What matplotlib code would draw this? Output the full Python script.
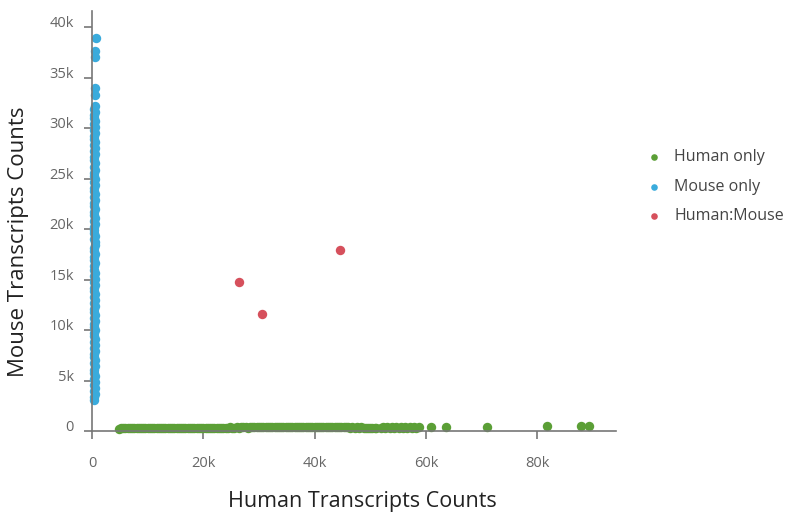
import matplotlib.pyplot as plt
from matplotlib.transforms import ScaledTranslation

plt.rcParams['font.family'] = ['Open Sans', 'DejaVu Sans']

# transcript counts per cell
human_x = [4800, 5200, 5600, 6000, 6400, 6800, 7200, 7600, 8000, 8400, 8800, 9200,
           9600, 10000, 10400, 10800, 11200, 11600, 12000, 12400, 12800, 13200, 13600, 14000,
           14400, 14800, 15200, 15600, 16000, 16400, 16800, 17200, 17600, 18000, 18400, 18800,
           19200, 19600, 20000, 20400, 20800, 21200, 21600, 22000, 22400, 22800, 23200, 23600,
           24000, 24400, 24800, 25200, 25600, 26000, 26400, 26800, 27200, 27600, 28000, 28400,
           28800, 29200, 29600, 30000, 30400, 30800, 31200, 31600, 32000, 32400, 32800, 33200,
           33600, 34000, 34400, 34800, 35200, 35600, 36000, 36400, 36800, 37200, 37600, 38000,
           38400, 38800, 39200, 39600, 40000, 40400, 40800, 41200, 41600, 42000, 42400, 42800,
           43200, 43600, 44000, 44400, 44800, 45200, 45600, 46000, 46400, 46800, 47200, 47600,
           48000, 48400, 48800, 49200, 49600, 50000, 50400, 50800, 51100,
           51900, 52300, 52700, 53100, 53500, 53900, 54300, 54700, 55100,
           55500, 55900, 56300, 56700, 57100, 57500, 57900, 58300, 58700,
           60900, 63600, 71000, 81700, 87800, 89400]
human_y = [240, 260, 270, 260, 280, 270, 280, 270, 290, 280, 270, 290,
           280, 290, 300, 290, 280, 300, 290, 300, 310, 300, 290, 310,
           300, 310, 320, 310, 300, 320, 310, 320, 330, 320, 310, 330,
           320, 330, 340, 330, 320, 340, 330, 340, 350, 340, 330, 350,
           340, 350, 360, 350, 340, 360, 350, 360, 370, 360, 350, 370,
           360, 370, 380, 370, 360, 380, 370, 380, 390, 380, 370, 390,
           380, 390, 400, 390, 380, 400, 390, 400, 400, 390, 380, 400,
           390, 400, 390, 380, 390, 380, 390, 380, 370, 380, 370, 380,
           370, 380, 370, 360, 370, 360, 370, 360, 350, 360, 350, 360,
           350, 360, 350, 340, 350, 340, 350, 340, 340,
           350, 360, 350, 360, 350, 360, 350, 360, 350,
           360, 350, 360, 350, 360, 350, 360, 350, 360,
           440, 450, 430, 480, 510, 500]

mouse_x = [450, 400, 500, 420, 480, 380, 460, 440, 500, 400,
           430, 470, 410, 490, 450, 390, 460, 430, 480, 420,
           500, 440, 400, 470, 450, 410, 490, 430, 460, 380,
           440, 480, 420, 460, 400, 500, 450, 430, 470, 410,
           460, 390, 490, 440, 420, 480, 450, 400, 470, 430,
           410, 460, 500, 440, 480, 420, 450, 390, 470, 430,
           490, 410, 450, 470, 430, 400, 460, 440, 480, 420,
           450, 500, 410, 460, 440, 390, 480, 430, 470, 450,
           420, 460, 440, 500, 400, 470, 450, 430, 480, 410,
           460, 440, 490, 420, 450, 470, 430, 460, 500, 550,
           600, 570, 650]
mouse_y = [3100, 3400, 3700, 4000, 4300, 4600, 4900, 5200, 5500, 5800,
           6100, 6400, 6700, 7000, 7300, 7600, 7900, 8200, 8500, 8800,
           9100, 9400, 9700, 10000, 10300, 10600, 10900, 11200, 11500, 11800,
           12100, 12400, 12700, 13000, 13300, 13600, 13900, 14200, 14500, 14800,
           15100, 15400, 15700, 16000, 16300, 16600, 16900, 17200, 17500, 17800,
           18100, 18400, 18700, 19000, 19300, 19600, 19900, 20200, 20500, 20800,
           21100, 21400, 21700, 22000, 22300, 22600, 22900, 23200, 23500, 23800,
           24100, 24400, 24700, 25000, 25300, 25600, 25900, 26200, 26500, 26800,
           27100, 27400, 27700, 28000, 28300, 28600, 28900, 29200, 29500, 29800,
           30100, 30400, 30700, 31000, 31300, 31600, 31900, 32200, 33300, 34000,
           37000, 37600, 38900]

mixed_x = [26400, 30600, 44600]
mixed_y = [14750, 11600, 17900]

x_ticks = [0, 20000, 40000, 60000, 80000]
x_tick_labels = ['0', '20k', '40k', '60k', '80k']
y_ticks = [0, 5000, 10000, 15000, 20000, 25000, 30000, 35000, 40000]
y_tick_labels = ['0', '5k', '10k', '15k', '20k', '25k', '30k', '35k', '40k']

fig = plt.figure(figsize=(7.93, 5.12), dpi=100)
ax = fig.add_axes([0.116, 0.158, 0.661, 0.8205])

ms = 46
ax.scatter(human_x, human_y, s=ms, color='#5b9f36', linewidths=0, label='Human only', clip_on=False, zorder=3)
ax.scatter(mouse_x, mouse_y, s=ms, color='#3aabdc', linewidths=0, label='Mouse only', clip_on=False, zorder=3)
ax.scatter(mixed_x, mixed_y, s=ms, color='#d6505c', linewidths=0, label='Human:Mouse', clip_on=False, zorder=3)

ax.set_xlim(0, 94200)
ax.set_ylim(0, 41600)

ax.set_xticks(x_ticks)
ax.set_xticklabels(x_tick_labels)
ax.set_yticks(y_ticks)
ax.set_yticklabels(y_tick_labels)

for side in ['top', 'right']:
    ax.spines[side].set_visible(False)
for side in ['left', 'bottom']:
    ax.spines[side].set_color('#777777')
    ax.spines[side].set_linewidth(1.2)
    ax.spines[side].set_zorder(4)

ax.tick_params(axis='x', length=6, width=1.2, color='#777777', pad=12, labelsize=10.5, labelcolor='#666666')
ax.tick_params(axis='y', length=6, width=1.2, color='#777777', pad=7, labelsize=10.5, labelcolor='#666666')

offset = ScaledTranslation(0, 4 / 72, fig.dpi_scale_trans)
for lbl in ax.get_yticklabels():
    lbl.set_transform(lbl.get_transform() + offset)

ax.set_xlabel('Human Transcripts Counts', fontsize=15.5, color='#222222')
ax.xaxis.set_label_coords(0.515, -0.143)
ax.set_ylabel('Mouse Transcripts Counts', fontsize=16, color='#222222')
ax.yaxis.set_label_coords(-0.12, 0.45)

leg = ax.legend(loc='upper left', bbox_to_anchor=(1.015, 0.705), frameon=False, fontsize=11.5,
                handletextpad=0.25, labelspacing=0.85, markerscale=0.7, labelcolor='#444444')

fig.savefig('out.png', dpi=100)
